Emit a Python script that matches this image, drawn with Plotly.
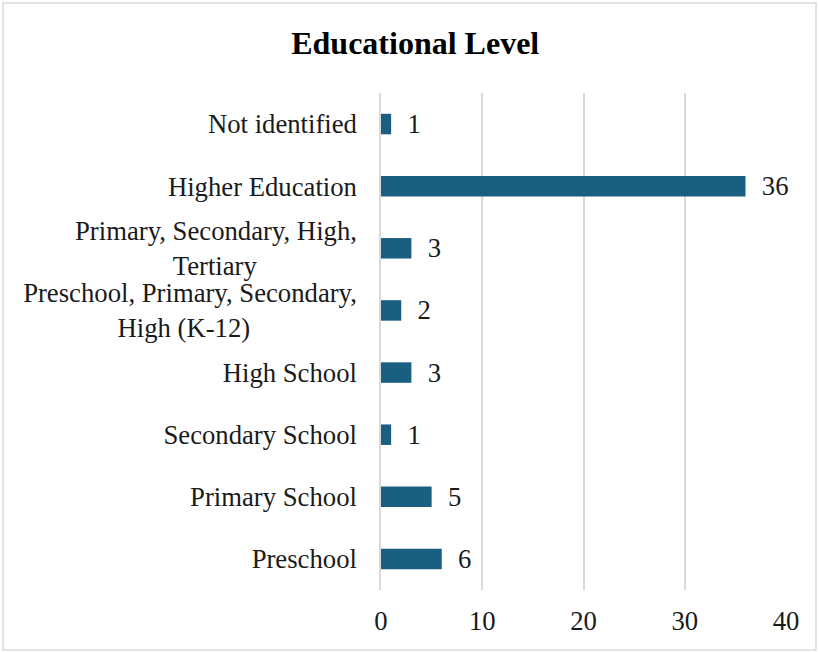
import plotly.graph_objects as go

categories = [
    "Preschool",
    "Primary School",
    "Secondary School",
    "High School",
    "Preschool, Primary, Secondary,<br>High (K-12)" + "&nbsp;" * 16,
    "Primary, Secondary, High,<br>Tertiary" + "&nbsp;" * 15,
    "Higher Education",
    "Not identified",
]
values = [6, 5, 1, 3, 2, 3, 36, 1]
x_ticks = [0, 10, 20, 30, 40]

BAR_COLOR = "#1a5f80"
FONT = "Liberation Serif, Times New Roman, serif"
FS = 26.7

fig = go.Figure(
    go.Bar(
        x=values,
        y=categories,
        orientation="h",
        marker=dict(color=BAR_COLOR, line=dict(width=0)),
        width=0.33,
        text=values,
        texttemplate="  %{x}",
        textposition="outside",
        constraintext="none",
        textfont=dict(family=FONT, size=FS, color="#1a1a1a"),
        cliponaxis=False,
    )
)

fig.update_layout(
    width=819,
    height=652,
    paper_bgcolor="white",
    plot_bgcolor="white",
    margin=dict(l=381, r=33, t=93, b=62),
    showlegend=False,
    title=dict(
        text="<b>Educational Level</b>",
        x=0.507,
        xanchor="center",
        y=0.934,
        yanchor="middle",
        font=dict(family=FONT, size=32, color="black"),
    ),
    font=dict(family=FONT, size=FS, color="#1a1a1a"),
    bargap=0.67,
)

fig.update_xaxes(
    range=[0, 40],
    tickvals=x_ticks,
    showgrid=True,
    gridcolor="#d9d9d9",
    gridwidth=1.5,
    zeroline=False,
    showline=False,
    ticks="",
    tickfont=dict(family=FONT, size=FS, color="#1a1a1a"),
    ticklabelstandoff=12,
)
fig.update_yaxes(
    showgrid=False,
    zeroline=False,
    showline=True,
    linecolor="#d9d9d9",
    linewidth=1.5,
    ticks="",
    tickfont=dict(family=FONT, size=FS, color="#1a1a1a"),
    ticklabelstandoff=17,
)

fig.add_shape(
    type="rect",
    xref="paper",
    yref="paper",
    x0=-381 / 405 + 3 / 405,
    x1=1 + 30 / 405,
    y0=-60 / 497,
    y1=1 + 90 / 497,
    line=dict(color="#d9d9d9", width=1.5),
    fillcolor="rgba(0,0,0,0)",
    layer="below",
)

fig.write_html("out.html")
